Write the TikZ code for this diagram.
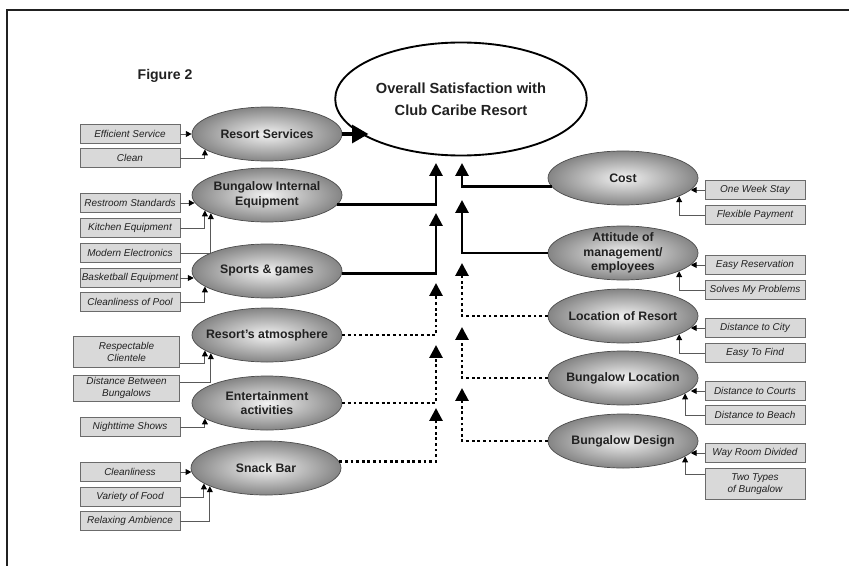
\documentclass[tikz,border=0pt]{standalone}
\usepackage{fontspec}
\setmainfont{Liberation Sans}
\usetikzlibrary{shapes.geometric,arrows.meta}

\definecolor{ellin}{gray}{0.95}
\definecolor{ellout}{gray}{0.52}
\definecolor{boxfill}{gray}{0.85}
\definecolor{boxline}{gray}{0.42}
\definecolor{linkgray}{gray}{0.35}
\definecolor{ink}{gray}{0.13}

\begin{document}
\begin{tikzpicture}[x=0.03cm, y=-0.03cm, text=ink,
    factor/.style={ellipse, draw=black!70, line width=0.6pt, inner color=ellin, outer color=ellout,
            minimum width=4.5cm, minimum height=1.62cm, inner xsep=-0.7cm, inner ysep=-0.3cm,
            align=center, font=\fontsize{10.5}{12.6}\selectfont\bfseries},
    item/.style={rectangle, draw=boxline, fill=boxfill, line width=0.8pt, minimum width=3cm,
            minimum height=0.57cm, inner sep=1pt, align=center, font=\fontsize{8.5}{10.8}\selectfont\itshape},
    link/.style={draw=linkgray, line width=0.8pt, -{Triangle[width=5pt,length=5pt,color=black]}},
    solidcon/.style={line width=2.4pt, -{Triangle[width=11pt,length=11pt]}},
    dotcon/.style={solidcon, dash pattern=on 2.4pt off 2.4pt}]

    \useasboundingbox (0,0) rectangle (849,566);

    % Frame (top and left edges only)
    \draw[line width=2.5pt, ink] (849,10) -- (7,10) -- (7,566);

    \node[font=\fontsize{12}{14}\selectfont\bfseries] (fig) at (165,76) {Figure 2};

    % Overall construct
    \node[ellipse, draw, line width=1.6pt, fill=white, minimum width=7.26cm, minimum height=3.39cm,
        align=center, font=\fontsize{12.5}{18.5}\selectfont\bfseries] (main) at (461,99)
        {Overall Satisfaction with\\Club Caribe Resort};

    % Left factors
    \node[factor] (rs) at (267,134) {Resort Services};
    \node[factor] (bie) at (267,195) {Bungalow Internal\\Equipment};
    \node[factor] (sg) at (267,271) {Sports \& games};
    \node[factor] (ra) at (267,335) {Resort's atmosphere};
    \node[factor] (ea) at (267,403) {Entertainment\\activities};
    \node[factor] (sb) at (266,468) {Snack Bar};

    % Right factors
    \node[factor] (cost) at (623,178) {Cost};
    \node[factor] (att) at (623,253) {Attitude of\\management/\\employees};
    \node[factor] (lor) at (623,316) {Location of Resort};
    \node[factor] (bl) at (623,378) {Bungalow Location};
    \node[factor] (bd) at (623,441) {Bungalow Design};

    % Left items
    \node[item] (es) at (130,134) {Efficient Service};
    \node[item] (cl) at (130,158) {Clean};
    \node[item] (rst) at (130,203) {Restroom Standards};
    \node[item] (ke) at (130,228) {Kitchen Equipment};
    \node[item] (me) at (130,253) {Modern Electronics};
    \node[item] (be) at (130,278) {Basketball Equipment};
    \node[item] (cp) at (130,302) {Cleanliness of Pool};
    \node[item, minimum width=3.2cm, minimum height=0.93cm] (rc) at (126.5,352) {Respectable\\Clientele};
    \node[item, minimum width=3.2cm, minimum height=0.78cm] (db) at (126.5,388) {Distance Between\\Bungalows};
    \node[item] (ns) at (130,427) {Nighttime Shows};
    \node[item] (cln) at (130,472) {Cleanliness};
    \node[item] (vf) at (130,497) {Variety of Food};
    \node[item] (rab) at (130,521) {Relaxing Ambience};

    % Right items
    \node[item] (ows) at (755,190) {One Week Stay};
    \node[item] (fp) at (755,215) {Flexible Payment};
    \node[item] (er) at (755,265) {Easy Reservation};
    \node[item] (smp) at (755,290) {Solves My Problems};
    \node[item] (dc) at (755,328) {Distance to City};
    \node[item] (etf) at (755,353) {Easy To Find};
    \node[item] (dco) at (755,391) {Distance to Courts};
    \node[item] (dbe) at (755,415) {Distance to Beach};
    \node[item] (wrd) at (755,453) {Way Room Divided};
    \node[item, minimum height=0.93cm] (ttb) at (755,484) {Two Types\\of Bungalow};

    % Items to factors
    \draw[link] (es.east) -- (rs.west);
    \draw[link] (cl.east) -| (rs.194);
    \draw[link] (rst.east) -- (rst.east -| bie.186);
    \draw[link] (ke.east) -| (bie.194);
    \draw[link] (me.east) -| (bie.198);
    \draw[link] (be.east) -- (be.east -| sg.185);
    \draw[link] (cp.east) -| (sg.194);
    \draw[link] ([yshift=-0.33cm]rc.east) -| (ra.194);
    \draw[link] ([yshift=0.18cm]db.east) -| (ra.198);
    \draw[link] (ns.east) -| (ea.194);
    \draw[link] (cln.east) -- (cln.east -| sb.183);
    \draw[link] (vf.east) -| (sb.194);
    \draw[link] (rab.east) -| (sb.198);

    \draw[link] (ows.west) -- (ows.west -| cost.-10);
    \draw[link] (fp.west) -| (cost.-18);
    \draw[link] (er.west) -- (er.west -| att.-10);
    \draw[link] (smp.west) -| (att.-18);
    \draw[link] (dc.west) -- (dc.west -| lor.-10);
    \draw[link] (etf.west) -| (lor.-18);
    \draw[link] (dco.west) -- (dco.west -| bl.-10);
    \draw[link] (dbe.west) -| (bl.-14);
    \draw[link] (wrd.west) -- (wrd.west -| bd.-10);
    \draw[link] ([yshift=0.3cm]ttb.west) -| (bd.-14);

    % Arrow ends below the overall construct
    \coordinate (tb) at (436,163);
    \coordinate (ts) at (436,213);
    \coordinate (ta) at (436,283);
    \coordinate (te) at (436,345);
    \coordinate (tsn) at (436,408);
    \coordinate (tc) at (462,163);
    \coordinate (tat) at (462,200);
    \coordinate (tl) at (462,263);
    \coordinate (tbl) at (462,327);
    \coordinate (tbd) at (462,388);

    % Factors to overall satisfaction
    \draw[line width=3.4pt, -{Triangle[width=15pt,length=14pt]}] (rs.east) -- (rs.east -| main.203);
    \draw[solidcon] (bie.-8) -| (tb);
    \draw[solidcon] (sg.-2) -| (ts);
    \draw[dotcon] (ra.east) -| (ta);
    \draw[dotcon] (ea.east) -| (te);
    \draw[dotcon] (sb.5) -| (tsn);

    \draw[solidcon] (cost.187) -| (tc);
    \draw[solidcon] (att.west) -| (tat);
    \draw[dotcon] (lor.west) -| (tl);
    \draw[dotcon] (bl.west) -| (tbl);
    \draw[dotcon] (bd.west) -| (tbd);

\end{tikzpicture}
\end{document}
